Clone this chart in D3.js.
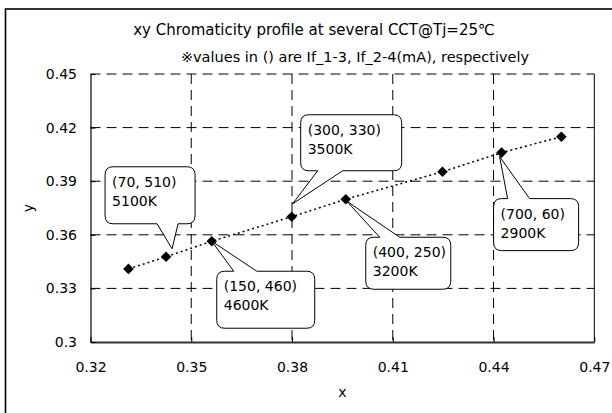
<!DOCTYPE html>
<html>
<head>
<meta charset="utf-8">
<script src="https://cdn.jsdelivr.net/npm/d3@7"></script>
<style>
  body { margin: 0; background: #fff; }
  svg text { font-family: "DejaVu Sans", "Noto Sans CJK JP", sans-serif; fill: #000; }
</style>
</head>
<body>
<div id="chart"></div>
<script>
// Data
const cieX = [0.3313, 0.3425, 0.3561, 0.3799, 0.3960, 0.4248, 0.4424, 0.4602];
const cieY = [0.3409, 0.3477, 0.3564, 0.3701, 0.3799, 0.3953, 0.4060, 0.4149];
const xTicks = [0.32, 0.35, 0.38, 0.41, 0.44, 0.47];
const yTicks = [0.3, 0.33, 0.36, 0.39, 0.42, 0.45];

// Callout labels: which point, drive currents, CCT
const calloutPoint = [1, 3, 2, 4, 6];
const calloutCurrent = ["(70, 510)", "(300, 330)", "(150, 460)", "(400, 250)", "(700, 60)"];
const calloutCCT = ["5100K", "3500K", "4600K", "3200K", "2900K"];

// Callout layout (pixels, relative to the point it points at)
const calloutLayout = [
    { dx: -61, dy: -90, w: 90, h: 57, side: "bottom", a: 52, b: 73, tx: 6, ty: -8 },
    { dx: 9, dy: -102, w: 101, h: 56, side: "bottom", a: 17, b: 42, tx: 1, ty: -13 },
    { dx: 5, dy: 30, w: 98, h: 57, side: "top", a: 17, b: 40, tx: 0, ty: 0 },
    { dx: 20, dy: 38, w: 85, h: 52, side: "top", a: 14, b: 34, tx: 1, ty: 2 },
    { dx: -8, dy: 46, w: 85, h: 52, side: "top", a: 14, b: 36, tx: -2, ty: 4 }
];

const width = 612;
const height = 413;
const plot = { left: 90.5, right: 594.3, top: 74, bottom: 342 };

const svg = d3.select("#chart")
    .append("svg")
    .attr("width", width)
    .attr("height", height);

// outer chart frame (only left and top edges fall inside the picture)
svg.append("rect")
    .attr("x", 5.5).attr("y", 9)
    .attr("width", 700).attr("height", 500)
    .attr("fill", "none")
    .attr("stroke", "#000")
    .attr("stroke-width", 1.6);

// titles
svg.append("text")
    .attr("x", 314).attr("y", 35)
    .attr("text-anchor", "middle")
    .style("font-size", "15px")
    .text("xy Chromaticity profile at several CCT@Tj=25℃");

svg.append("text")
    .attr("x", 355).attr("y", 62)
    .attr("text-anchor", "middle")
    .style("font-size", "14.5px")
    .text("※values in () are If_1-3, If_2-4(mA), respectively");

// Scales
const x = d3.scaleLinear().domain([0.32, 0.47]).range([plot.left, plot.right]);
const y = d3.scaleLinear().domain([0.3, 0.45]).range([plot.bottom, plot.top]);

// Gridlines
svg.append("g")
    .selectAll("line")
    .data(xTicks.slice(1, -1))
    .join("line")
    .attr("x1", d => x(d)).attr("x2", d => x(d))
    .attr("y1", plot.top).attr("y2", plot.bottom)
    .attr("stroke", "#000")
    .attr("stroke-width", 1)
    .attr("stroke-dasharray", "10,6");

svg.append("g")
    .selectAll("line")
    .data(yTicks.slice(1))
    .join("line")
    .attr("x1", plot.left).attr("x2", plot.right)
    .attr("y1", d => y(d)).attr("y2", d => y(d))
    .attr("stroke", "#000")
    .attr("stroke-width", 1)
    .attr("stroke-dasharray", "10,6");

// right edge of plot area
svg.append("line")
    .attr("x1", plot.right).attr("x2", plot.right)
    .attr("y1", plot.top).attr("y2", plot.bottom)
    .attr("stroke", "#000")
    .attr("stroke-width", 1);

// Axes
const xAxis = svg.append("g")
    .attr("transform", `translate(0,${plot.bottom})`)
    .call(d3.axisBottom(x).tickValues(xTicks).tickFormat(d3.format("")).tickSizeInner(-5).tickSizeOuter(0).tickPadding(20));

const yAxis = svg.append("g")
    .attr("transform", `translate(${plot.left},0)`)
    .call(d3.axisLeft(y).tickValues(yTicks).tickFormat(d3.format("")).tickSizeInner(-5).tickSizeOuter(0).tickPadding(13.5));

xAxis.select(".domain").attr("stroke", "#333").attr("stroke-width", 2);
yAxis.select(".domain").attr("stroke", "#000").attr("stroke-width", 1.2);
[xAxis, yAxis].forEach(ax => {
    ax.attr("font-size", null).attr("font-family", null);
    ax.selectAll(".tick line").attr("stroke", "#000");
    ax.selectAll(".tick text").attr("fill", "#000").style("font-size", "14px");
});

// axis titles
svg.append("text")
    .attr("x", (plot.left + plot.right) / 2).attr("y", 397)
    .attr("text-anchor", "middle")
    .style("font-size", "14px")
    .text("x");

svg.append("text")
    .attr("transform", `translate(33,${(plot.top + plot.bottom) / 2}) rotate(-90)`)
    .attr("text-anchor", "middle")
    .style("font-size", "14px")
    .text("y");

// Data line and markers
const points = cieX.map((d, i) => [d, cieY[i]]);

svg.append("path")
    .datum(points)
    .attr("fill", "none")
    .attr("stroke", "#000")
    .attr("stroke-width", 1.5)
    .attr("stroke-dasharray", "2,3")
    .attr("d", d3.line().x(d => x(d[0])).y(d => y(d[1])));

svg.append("g")
    .selectAll("path")
    .data(points)
    .join("path")
    .attr("transform", d => `translate(${x(d[0])},${y(d[1])})`)
    .attr("d", d3.symbol(d3.symbolDiamond2, 72))
    .attr("fill", "#000");

// Callouts (rounded box with a wedge pointing at the point)
const calloutPath = (bx, by, w, h, r, lay, tipX, tipY) => {
    let p = `M${bx + r},${by}`;
    if (lay.side === "top") p += `L${bx + lay.a},${by}L${tipX},${tipY}L${bx + lay.b},${by}`;
    p += `L${bx + w - r},${by}Q${bx + w},${by} ${bx + w},${by + r}`;
    p += `L${bx + w},${by + h - r}Q${bx + w},${by + h} ${bx + w - r},${by + h}`;
    if (lay.side === "bottom") p += `L${bx + lay.b},${by + h}L${tipX},${tipY}L${bx + lay.a},${by + h}`;
    p += `L${bx + r},${by + h}Q${bx},${by + h} ${bx},${by + h - r}`;
    p += `L${bx},${by + r}Q${bx},${by} ${bx + r},${by}Z`;
    return p;
};

calloutPoint.forEach((pi, i) => {
    const lay = calloutLayout[i];
    const px = x(cieX[pi]);
    const py = y(cieY[pi]);
    const bx = px + lay.dx;
    const by = py + lay.dy;
    const g = svg.append("g");
    g.append("path")
        .attr("d", calloutPath(bx, by, lay.w, lay.h, 8, lay, px + lay.tx, py + lay.ty))
        .attr("fill", "#fff")
        .attr("stroke", "#000")
        .attr("stroke-width", 1);
    g.append("text")
        .attr("x", bx + 7).attr("y", by + 20)
        .style("font-size", "14px")
        .text(calloutCurrent[i]);
    g.append("text")
        .attr("x", bx + 7).attr("y", by + 39)
        .style("font-size", "14px")
        .text(calloutCCT[i]);
});
</script>
</body>
</html>
